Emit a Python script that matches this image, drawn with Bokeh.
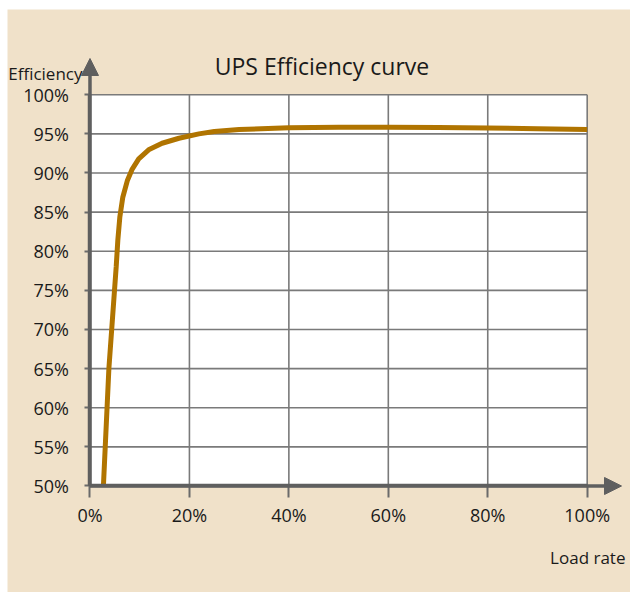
from bokeh.plotting import figure
from bokeh.models import FixedTicker, PrintfTickFormatter, Arrow, NormalHead, Label, Range1d
from bokeh.embed import file_html
from bokeh.resources import INLINE

# data
load_rate = [2.7, 3.8, 4.93, 5.27, 5.6, 6.0, 6.6, 7.5, 8.5, 9.8, 11.8, 14.5, 17.9, 21.9,
             25, 30, 40, 50, 60, 70, 80, 90, 100]
efficiency = [50, 65, 75, 78, 81.4, 84.35, 86.9, 89.0, 90.5, 91.8, 92.96, 93.8, 94.44, 95.0,
              95.3, 95.55, 95.77, 95.83, 95.85, 95.82, 95.75, 95.65, 95.55]
x_ticks = [0, 20, 40, 60, 80, 100]
y_ticks = [50, 55, 60, 65, 70, 75, 80, 85, 90, 95, 100]
title_text = "UPS Efficiency curve"
x_label = "Load rate"
y_label = "Efficiency"

BG = "#F0E1C9"
AX = "#5F5F5F"
GRID = "#7A7A7A"
LINE = "#B07400"
FONT = "Open Sans"
TXT = "#1A1A1A"

p = figure(width=630, height=592, output_backend="svg", toolbar_location=None,
           x_range=Range1d(-16.59, 108.71), y_range=Range1d(36.39, 110.89),
           min_border_left=7, min_border_right=0, min_border_top=9, min_border_bottom=0)
p.title.visible = False
p.background_fill_color = BG
p.border_fill_color = "white"
p.outline_line_color = None
p.grid.visible = False

# white plotting area
p.quad(left=x_ticks[0], right=x_ticks[-1], bottom=y_ticks[0], top=y_ticks[-1],
       fill_color="white", line_color=None)

# grid lines
p.segment(x0=[x_ticks[0]] * len(y_ticks), x1=[x_ticks[-1]] * len(y_ticks), y0=y_ticks, y1=y_ticks,
          line_color=GRID, line_width=1.6)
p.segment(x0=x_ticks, x1=x_ticks, y0=[y_ticks[0]] * len(x_ticks), y1=[y_ticks[-1]] * len(x_ticks),
          line_color=GRID, line_width=1.6)

xa, ya = p.xaxis[0], p.yaxis[0]
xa.fixed_location = y_ticks[0]
ya.fixed_location = x_ticks[0]
xa.bounds = (x_ticks[0], x_ticks[-1])
ya.bounds = (y_ticks[0], y_ticks[-1])
for ax, ticks, tout in ((xa, x_ticks, 12), (ya, y_ticks, 5)):
    ax.ticker = FixedTicker(ticks=ticks)
    ax.formatter = PrintfTickFormatter(format="%d%%")
    ax.axis_line_color = AX
    ax.axis_line_width = 3.5
    ax.major_tick_line_color = "#6A6A6A"
    ax.major_tick_line_width = 2
    ax.major_tick_out = tout
    ax.major_tick_in = 0
    ax.minor_tick_line_color = None
    ax.major_label_text_font = FONT
    ax.major_label_text_font_size = "18px"
    ax.major_label_text_color = TXT
xa.major_label_standoff = 5
ya.major_label_standoff = 16

p.line(load_rate, efficiency, line_color=LINE, line_width=5)

# axis arrows
p.add_layout(Arrow(end=NormalHead(size=17, fill_color=AX, line_color=AX, line_width=1),
                   x_start=x_ticks[0], y_start=y_ticks[0], x_end=x_ticks[0], y_end=104.63,
                   line_color=AX, line_width=3.5))
p.add_layout(Arrow(end=NormalHead(size=17, fill_color=AX, line_color=AX, line_width=1),
                   x_start=x_ticks[0], y_start=y_ticks[0], x_end=106.9, y_end=y_ticks[0],
                   line_color=AX, line_width=3.5))

p.add_layout(Label(x=46.66, y=103.73, text=title_text, text_align="center",
                   text_baseline="alphabetic", text_font=FONT, text_font_size="23px",
                   text_color=TXT))
p.add_layout(Label(x=-1.51, y=102.71, text=y_label, text_align="right",
                   text_baseline="alphabetic", text_font=FONT, text_font_size="17px",
                   text_color=TXT))
p.add_layout(Label(x=107.7, y=40.86, text=x_label, text_align="right",
                   text_baseline="alphabetic", text_font=FONT, text_font_size="17px",
                   text_color=TXT))

open("out.html", "w").write(file_html(p, INLINE))
